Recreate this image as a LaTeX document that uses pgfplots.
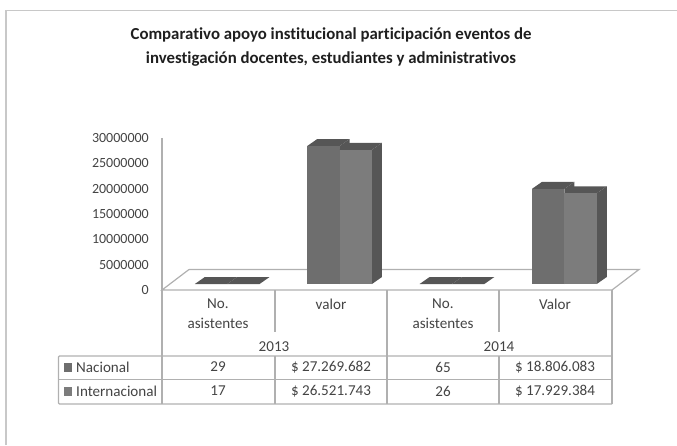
\documentclass[border=0pt]{standalone}
\usepackage{pgfplots}
\pgfplotsset{compat=1.18}
\usepackage{fontspec}
\setmainfont[Ligatures=NoCommon]{Carlito}
\definecolor{frontA}{HTML}{6E6E6E}
\definecolor{frontB}{HTML}{7C7C7C}
\definecolor{darkf}{HTML}{565656}
\definecolor{gridc}{HTML}{B0B0B0}
\definecolor{txt}{HTML}{444444}
\begin{document}
\begin{tikzpicture}
\path[use as bounding box] (0,0) rectangle (677pt,445pt);
\begin{scope}[x=1pt,y=-1pt,yshift=445pt]
\draw[gridc!70,line width=1.6pt] (6,445) -- (6,11);
\draw[gridc!70,line width=1pt] (5.2,11) -- (677,11);
\draw[gridc,line width=1.2pt] (189,269.5) -- (639,269.5) -- (612,290);
\draw[gridc,line width=1.2pt] (189,269.5) -- (162,290) -- (612,290);
\draw[gridc,line width=1.2pt] (162,138) -- (162,404);
\draw[gridc,line width=1.2pt,rounded corners=1pt] (612,356) -- (58.5,356) -- (58.5,404) -- (612,404);
\draw[gridc,line width=1.2pt] (58.5,379.5) -- (612,379.5);
\draw[gridc,line width=1.2pt] (275,290) -- (275,332) (275,356) -- (275,404);
\draw[gridc,line width=1.2pt] (387,290) -- (387,404);
\draw[gridc,line width=1.2pt] (499,290) -- (499,332) (499,356) -- (499,404);
\draw[gridc,line width=1.2pt] (612,290) -- (612,404);
\fill[frontA] (63.5,363) rectangle (72,372);
\fill[frontB] (63.5,387) rectangle (72,395.5);
\tikzset{t/.style={text=txt,font=\fontsize{15.1pt}{17pt}\selectfont,inner sep=0pt}}
\node[t] at (218,304) {No.};
\node[t] at (218,323) {asistentes};
\node[t] at (331,304) {valor};
\node[t] at (443,304) {No.};
\node[t] at (443,323) {asistentes};
\node[t] at (555,304) {Valor};
\node[t] at (274,347) {2013};
\node[t] at (499,347) {2014};
\node[t,anchor=west] at (76,367) {Nacional};
\node[t,anchor=west] at (76,391) {Internacional};
\node[t] at (218,367) {29};
\node[t] at (218,391) {17};
\node[t] at (331,367) {\$ 27.269.682};
\node[t] at (331,391) {\$ 26.521.743};
\node[t] at (443,367) {65};
\node[t] at (443,391) {26};
\node[t] at (555,367) {\$ 18.806.083};
\node[t] at (555,391) {\$ 17.929.384};
\node[text=black!88,font=\fontsize{16.8pt}{24.5pt}\selectfont\bfseries,align=center,inner sep=0pt] at (331,47)
 {Comparativo apoyo institucional participación eventos de\\investigación docentes, estudiantes y administrativos};
\end{scope}
% tick axis
\begin{axis}[at={(162pt,155pt)},anchor=south west,scale only axis,width=450pt,height=152pt,
 xmin=0,xmax=1,ymin=0,ymax=30000000,axis lines=none,clip=false]
\addplot[draw=none,forget plot] coordinates {(0,0)(0,30000000)};
\pgfplotsinvokeforeach{0,5000000,10000000,15000000,20000000,25000000,30000000}{
 \node[anchor=east,text=txt,font=\fontsize{14pt}{16pt}\selectfont,inner sep=0pt] at (axis cs:-0.0289,#1) {#1};}
\end{axis}
% bars
\begin{axis}[at={(171pt,161pt)},anchor=south west,scale only axis,width=449.6pt,height=151.8pt,
 xmin=-0.5,xmax=3.5,ymin=0,ymax=30000000,axis lines=none,clip=false]
% No. asistentes 2013 / 2014: tops of the near-zero bars
\addplot[draw=none,fill=darkf] coordinates {(-0.288,29)(-0.199,1383029)(0.089,1383029)(0,29)};
\addplot[draw=none,fill=darkf] coordinates {(0,17)(0.089,1383017)(0.377,1383017)(0.288,17)};
\addplot[draw=none,fill=darkf] coordinates {(1.712,65)(1.801,1383065)(2.089,1383065)(2,65)};
\addplot[draw=none,fill=darkf] coordinates {(2,26)(2.089,1383026)(2.377,1383026)(2.288,26)};
% Nacional valor 2013
\addplot[draw=none,fill=darkf] coordinates {(0.712,27269682)(0.801,28652682)(1.089,28652682)(1,27269682)};
\addplot[draw=none,fill=darkf] coordinates {(1,0)(1.089,1383000)(1.089,28652682)(1,27269682)};
\addplot[ybar,bar width=32.4pt,bar shift=-16.2pt,draw=none,fill=frontA] coordinates {(1,27269682)};
% Internacional valor 2013
\addplot[draw=none,fill=darkf] coordinates {(1,26521743)(1.089,27904743)(1.377,27904743)(1.288,26521743)};
\addplot[draw=none,fill=darkf] coordinates {(1.288,0)(1.377,1383000)(1.377,27904743)(1.288,26521743)};
\addplot[ybar,bar width=32.4pt,bar shift=16.2pt,draw=none,fill=frontB] coordinates {(1,26521743)};
% Nacional valor 2014
\addplot[draw=none,fill=darkf] coordinates {(2.712,18806083)(2.801,20189083)(3.089,20189083)(3,18806083)};
\addplot[draw=none,fill=darkf] coordinates {(3,0)(3.089,1383000)(3.089,20189083)(3,18806083)};
\addplot[ybar,bar width=32.4pt,bar shift=-16.2pt,draw=none,fill=frontA] coordinates {(3,18806083)};
% Internacional valor 2014
\addplot[draw=none,fill=darkf] coordinates {(3,17929384)(3.089,19312384)(3.377,19312384)(3.288,17929384)};
\addplot[draw=none,fill=darkf] coordinates {(3.288,0)(3.377,1383000)(3.377,19312384)(3.288,17929384)};
\addplot[ybar,bar width=32.4pt,bar shift=16.2pt,draw=none,fill=frontB] coordinates {(3,17929384)};
\end{axis}
\end{tikzpicture}
\end{document}
